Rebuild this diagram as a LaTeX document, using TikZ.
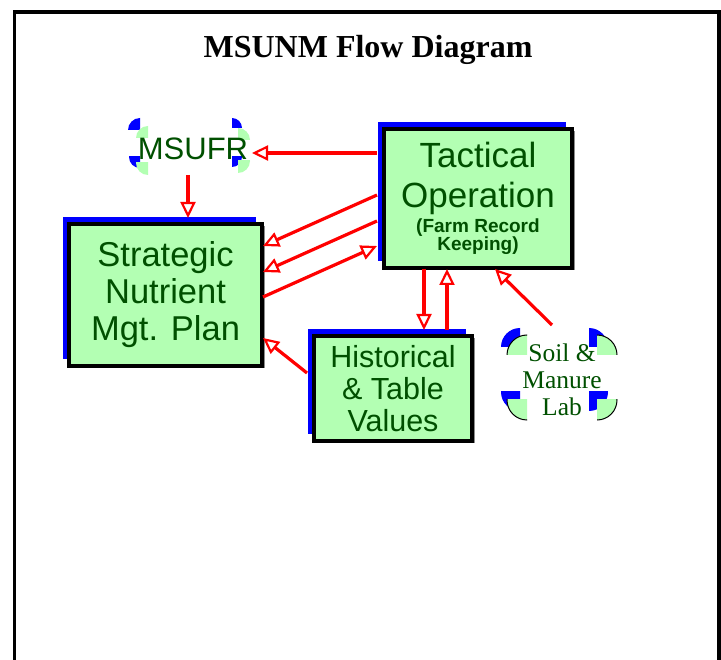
\documentclass[tikz,border=0pt]{standalone}
\usepackage{fontspec}
\setmainfont{Liberation Serif}
\setsansfont{Liberation Sans}
\usetikzlibrary{arrows.meta,calc,backgrounds}
\definecolor{lgreen}{RGB}{179,255,179}
\definecolor{dgreen}{RGB}{0,80,0}
\definecolor{sblue}{RGB}{0,0,255}
\newcommand{\qd}[6]{%
  \begin{scope}
    \clip (#1,#2) rectangle ({#1+(#3)*(#5+1)},{#2+(#4)*(#5+1)});
    \fill[#6] (#1,#2) circle[radius=#5];
  \end{scope}}
\newcommand{\qdo}[5]{%
  \begin{scope}
    \clip (#1,#2) rectangle ({#1+(#3)*(#5+1.5)},{#2+(#4)*(#5+1.5)});
    \fill[lgreen] (#1,#2) circle[radius=#5];
    \draw[black,line width=1pt] (#1,#2) circle[radius=#5];
  \end{scope}}
\begin{document}
\begin{tikzpicture}[x=1pt,y=-1pt,
  gbox/.style={draw=black, line width=3.2pt, fill=lgreen, text=dgreen, font=\sffamily,
    align=center, inner sep=0pt, outer sep=0pt},
  arr/.style={draw=red, line width=3.2pt, -{Triangle[open,length=16pt,width=15pt,line width=2.2pt]}},
  bshadow/.style={fill=sblue},
  gshadow/.style={fill=black!45}
]
\useasboundingbox (0,0) rectangle (721,660);
% frame
\draw[line width=3.5pt] (14.5,662) -- (14.5,12) -- (719,12) -- (719,662);
% title
\node[font=\bfseries\fontsize{32}{36}\selectfont, anchor=base, inner sep=0pt] (title) at (368,58) {MSUNM Flow Diagram};

% boxes
\node[gbox, minimum width=188pt, minimum height=139pt,
  font=\sffamily\fontsize{35}{40}\selectfont] (tac) at (478,198.5)
  {Tactical\\Operation\\[-15pt]\fontsize{19}{20}\selectfont\bfseries (Farm Record\\[-22pt]\fontsize{19}{20}\selectfont\bfseries Keeping)};
\node[gbox, minimum width=193pt, minimum height=142pt,
  font=\sffamily\fontsize{34.5}{37}\selectfont] (str) at (165.5,295)
  {Strategic\\Nutrient\\Mgt. Plan};
\node[gbox, minimum width=158pt, minimum height=105pt,
  font=\sffamily\fontsize{30.5}{32}\selectfont] (hist) at (393,388.5)
  {Historical\\\& Table\\Values};

\begin{scope}[on background layer]
  \fill[white] (0,0) rectangle (721,660);
  \foreach \n in {tac,str,hist}{
    \fill[gshadow] ($(\n.north west)+(2.5,2.5)$) rectangle ($(\n.south east)+(2.5,2.5)$);
    \fill[bshadow] ($(\n.north west)+(-6,-7)$) rectangle ($(\n.south east)+(-6,-7)$);
  }
\end{scope}

% MSUFR corners
\qd{140}{130}{-1}{-1}{12}{sblue}
\qd{148}{138}{-1}{-1}{12}{lgreen}
\qd{140}{157}{-1}{1}{11}{sblue}
\qd{148}{163}{-1}{1}{12}{lgreen}
\qd{232}{128}{1}{-1}{10}{sblue}
\qd{238}{140}{1}{-1}{12}{lgreen}
\qd{232}{157}{1}{1}{10}{sblue}
\qd{238}{161}{1}{1}{12}{lgreen}
\node[text=dgreen, font=\sffamily\fontsize{31}{33}\selectfont, minimum width=122pt,
  minimum height=56pt, inner sep=0pt, outer sep=0pt] (msufr) at (193,148.5) {MSUFR};

% Soil corners
\qd{520}{347}{-1}{-1}{19}{sblue}
\qdo{527}{355}{-1}{-1}{20}
\qd{589}{347}{1}{-1}{19}{sblue}
\qdo{597}{355}{1}{-1}{20}
\qd{520}{392}{-1}{1}{19}{sblue}
\qdo{527}{400}{-1}{1}{20}
\qd{589}{392}{1}{1}{19}{sblue}
\qdo{597}{400}{1}{1}{20}
\node[text=dgreen, font=\fontsize{25.5}{27}\selectfont, align=center, minimum width=118pt,
  minimum height=100pt, inner sep=0pt, outer sep=0pt] (soil) at (562,380) {Soil \&\\Manure\\Lab};

% arrows
\draw[arr] ($(tac.north west)+(-7,24)$) -- ($(msufr.east)+(-2,4.5)$);
\draw[arr] ($(msufr.south)+(-5,-1.5)$) -- ($(str.north)+(22.5,-6)$);
\draw[arr] ($(tac.north west)+(-7,66)$) -- ($(str.north east)+(1,22)$);
\draw[arr] ($(tac.north west)+(-7,92)$) -- ($(str.north east)+(1,48)$);
\draw[arr] ($(str.north east)+(1,73)$) -- ($(tac.north west)+(-7,117)$);
\draw[arr] ($(hist.north west)+(-7,37)$) -- ($(str.north east)+(1,114)$);
\draw[arr] ($(tac.south west)+(40,1)$) -- ($(hist.north west)+(110,-6)$);
\draw[arr] ($(hist.north west)+(133,-6)$) -- ($(tac.south west)+(63,1)$);
\draw[arr] ($(soil.north)+(-10,-5)$) -- ($(tac.south west)+(111,1)$);
\end{tikzpicture}
\end{document}
